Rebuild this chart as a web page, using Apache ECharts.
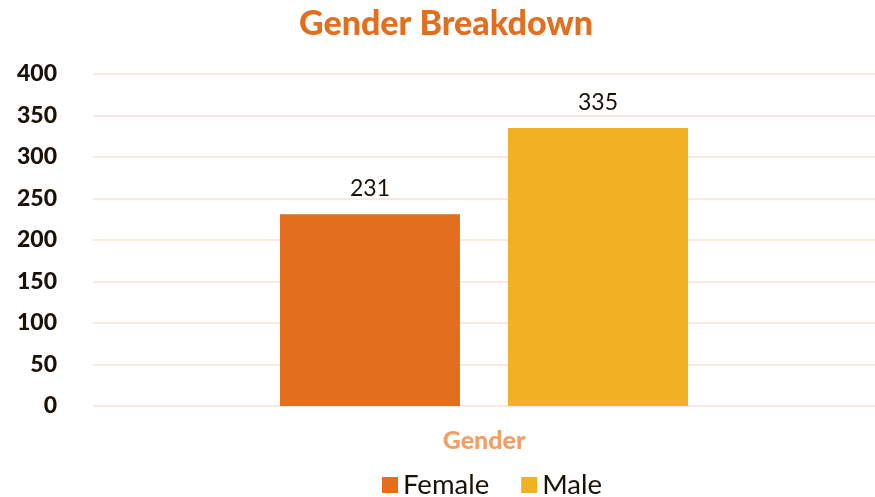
<!DOCTYPE html>
<html>
<head>
<meta charset="utf-8">
<script src="https://cdn.jsdelivr.net/npm/echarts@6/dist/echarts.min.js"></script>
<style>html,body{margin:0;padding:0;background:#fff}#c{width:875px;height:497px}</style>
</head>
<body>
<div id="c"></div>
<script>
const categories = ['Gender'];
const seriesNames = ['Female', 'Male'];
const femaleValues = [231];
const maleValues = [335];
const yTicks = [0, 50, 100, 150, 200, 250, 300, 350, 400];
const colors = ['#E36F1E', '#F2B124'];
const FONT = 'Lato';

const chart = echarts.init(document.getElementById('c'), null, {renderer: 'canvas'});
chart.setOption({
  animation: false,
  title: {
    text: 'Gender Breakdown', left: 294, top: 2,
    textStyle: {fontFamily: FONT, fontSize: 34, fontWeight: 900, color: '#E36F1E'}
  },
  legend: {
    bottom: -7, left: 377, itemWidth: 16, itemHeight: 16, itemGap: 32,
    icon: 'rect',
    textStyle: {fontFamily: FONT, fontSize: 27.5, color: '#1a1208'},
    data: seriesNames
  },
  grid: {left: 93, right: 0, top: 74, bottom: 91, containLabel: false},
  xAxis: {
    type: 'category', data: categories,
    axisLine: {show: false}, axisTick: {show: false},
    axisLabel: {margin: 22, fontFamily: FONT, fontSize: 25, fontWeight: 900, color: '#F0A066'}
  },
  yAxis: {
    type: 'value', min: yTicks[0], max: yTicks[yTicks.length - 1], interval: 50,
    axisLine: {show: false}, axisTick: {show: false},
    splitLine: {lineStyle: {color: '#FBE9DF', width: 2}},
    axisLabel: {margin: 36, fontFamily: FONT, fontSize: 23, fontWeight: 900, color: '#1a1208'}
  },
  series: [
    {name: seriesNames[0], type: 'bar', data: femaleValues, barWidth: 180, barGap: '26.7%',
     itemStyle: {color: colors[0]},
     label: {show: true, position: 'top', distance: 14, fontFamily: FONT, fontSize: 23, color: '#1a1208'}},
    {name: seriesNames[1], type: 'bar', data: maleValues, barWidth: 180,
     itemStyle: {color: colors[1]},
     label: {show: true, position: 'top', distance: 14, fontFamily: FONT, fontSize: 23, color: '#1a1208'}}
  ]
});
</script>
</body>
</html>
